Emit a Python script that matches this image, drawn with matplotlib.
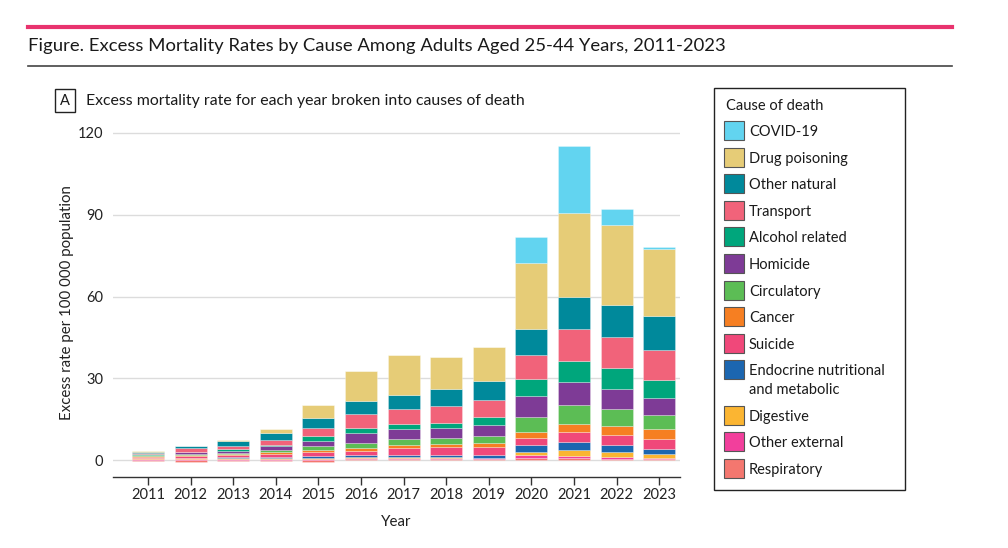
import matplotlib
matplotlib.use("Agg")
import matplotlib.pyplot as plt
from matplotlib.patches import Rectangle
from matplotlib.lines import Line2D
import numpy as np

plt.rcParams['font.family'] = ['Lato', 'DejaVu Sans']

years = ["2011", "2012", "2013", "2014", "2015", "2016", "2017",
         "2018", "2019", "2020", "2021", "2022", "2023"]

# stacking order: bottom -> top
causes = ["Respiratory", "Other external", "Digestive", "Endocrine nutritional\nand metabolic",
          "Suicide", "Cancer", "Circulatory", "Homicide", "Alcohol related",
          "Transport", "Other natural", "Drug poisoning", "COVID-19"]

respiratory    = [-0.3, -0.7, -0.4, -0.4, -0.7, 0.3, 0.3, 0.3, 0.3, 0.8, 0.6, 0.4, 0.3]
other_external = [0.4, 0.4, 0.5, 0.4, 0.5, 0.5, 0.4, 0.5, 0.3, 1.0, 1.0, 0.8, 0.4]
digestive      = [0.2, 0.3, 0.3, 0.3, 0.4, 0.4, 0.4, 0.4, 0.3, 1.2, 2.1, 1.6, 1.5]
endocrine      = [0.1, 0.2, 0.2, 0.4, 0.5, 0.6, 0.7, 0.6, 0.9, 2.5, 2.9, 2.7, 1.8]
suicide        = [0.6, 0.7, 0.8, 1.2, 1.5, 1.5, 2.7, 2.9, 2.9, 2.7, 3.6, 3.7, 3.6]
cancer         = [0.2, 0.3, 0.4, 0.6, 0.9, 1.2, 1.0, 1.2, 1.4, 2.1, 3.0, 3.2, 3.7]
circulatory    = [0.3, 0.4, 0.5, 0.9, 1.2, 1.9, 2.2, 2.1, 2.7, 5.6, 7.0, 6.3, 5.2]
homicide       = [0.2, 0.6, 0.8, 1.2, 2.0, 3.4, 3.7, 3.6, 4.0, 7.6, 8.4, 7.5, 6.4]
alcohol        = [0.2, 0.2, 0.4, 0.7, 1.7, 1.8, 1.7, 2.1, 2.9, 6.1, 7.8, 7.4, 6.4]
transport      = [0.4, 1.2, 1.4, 1.8, 3.2, 5.2, 5.6, 6.1, 6.3, 8.9, 11.6, 11.4, 11.0]
other_natural  = [0.3, 0.8, 1.8, 2.4, 3.7, 4.9, 5.2, 6.1, 7.0, 9.6, 11.9, 12.0, 12.4]
drug           = [0.3, 0.1, 0.1, 1.6, 4.5, 11.0, 14.6, 12.0, 12.5, 24.3, 30.7, 29.2, 24.6]
covid          = [0.0, 0.0, 0.0, 0.0, 0.0, 0.0, 0.0, 0.0, 0.0, 9.3, 24.6, 5.9, 0.9]

series = [respiratory, other_external, digestive, endocrine, suicide, cancer,
          circulatory, homicide, alcohol, transport, other_natural, drug, covid]

colors = ["#f4776f", "#f23f9c", "#fbb532", "#1c66b0", "#f0487a", "#f67f22",
          "#5cbd55", "#7e3b96", "#00a67c", "#f1637a", "#00899b", "#e6cc77", "#62d4f0"]

y_ticks = [0, 30, 60, 90, 120]

fig = plt.figure(figsize=(10.08, 5.48), dpi=100)
W, H = 1008, 548

def fx(px):
    return px / W

def fy(py):
    return 1 - py / H

# top decorations
fig.add_artist(Line2D([fx(28), fx(952)], [fy(27), fy(27)], color="#e8336e", lw=3))
fig.text(fx(28), fy(46), "Figure. Excess Mortality Rates by Cause Among Adults Aged 25-44 Years, 2011-2023",
         fontsize=13.3, color="#1a1a1a", va="center", ha="left")
fig.add_artist(Line2D([fx(28), fx(952)], [fy(66), fy(66)], color="#444444", lw=1.2))

# panel label
fig.add_artist(Rectangle((fx(55), fy(112)), fx(75) - fx(55), fy(89) - fy(112),
                         fill=False, edgecolor="#222222", lw=1))
fig.text(fx(65), fy(101), "A", fontsize=10.5, ha="center", va="center", color="#1a1a1a")
fig.text(fx(86), fy(101), "Excess mortality rate for each year broken into causes of death",
         fontsize=11.4, ha="left", va="center", color="#1a1a1a")

# axes
ax = fig.add_axes([fx(113), fy(477), fx(680) - fx(113), fy(127.5) - fy(477)])
x = np.arange(len(years))
pos_base = np.zeros(len(years))
neg_base = np.zeros(len(years))
for vals, col in zip(series, colors):
    v = np.array(vals, dtype=float)
    bottoms = np.where(v >= 0, pos_base, neg_base)
    ax.bar(x, v, bottom=bottoms, width=0.75, color=col, edgecolor=(1, 1, 1, 0.5),
           linewidth=0.4, zorder=3)
    pos_base = pos_base + np.where(v >= 0, v, 0)
    neg_base = neg_base + np.where(v < 0, v, 0)

ax.set_xlim(-0.82, 12.49)
ax.set_ylim(-6.2, 122)
ax.set_yticks(y_ticks)
ax.set_yticklabels([str(t) for t in y_ticks])
ax.set_xticks(x)
ax.set_xticklabels(years)
ax.grid(axis="y", color="#dcdcdc", lw=1, zorder=0)
for s in ["top", "right", "left"]:
    ax.spines[s].set_visible(False)
ax.spines["bottom"].set_color("#333333")
ax.spines["bottom"].set_linewidth(1)
ax.tick_params(axis="y", length=0, pad=7, labelsize=10.5, labelcolor="#222222")
ax.tick_params(axis="x", length=6, width=1, color="#333333", pad=2, labelsize=10.5,
               labelcolor="#222222")
ax.set_xlabel("Year", fontsize=10.8, color="#222222", labelpad=9)
ax.set_ylabel("Excess rate per 100 000 population", fontsize=10.8, color="#222222", labelpad=3)

# legend (manual)
fig.add_artist(Rectangle((fx(714), fy(490)), fx(905) - fx(714), fy(88) - fy(490),
                         fill=False, edgecolor="#222222", lw=1))
fig.text(fx(726), fy(106), "Cause of death", fontsize=10.5, ha="left", va="center", color="#1a1a1a")
legend_y = [130, 157, 183, 210, 236, 263, 290, 316, 343, 369, 415, 441, 468]
for i, (name, col) in enumerate(zip(causes[::-1], colors[::-1])):
    yc = legend_y[i]
    fig.add_artist(Rectangle((fx(724), fy(yc + 10)), fx(744) - fx(724), fy(yc - 9) - fy(yc + 10),
                             facecolor=col, edgecolor="#555555", lw=0.8))
    if "\n" in name:
        a, b = name.split("\n")
        fig.text(fx(749), fy(yc + 2), a, fontsize=10.5, ha="left", va="center", color="#1a1a1a")
        fig.text(fx(749), fy(yc + 21), b, fontsize=10.5, ha="left", va="center", color="#1a1a1a")
    else:
        fig.text(fx(749), fy(yc + 2), name, fontsize=10.5, ha="left", va="center", color="#1a1a1a")

fig.savefig("out.png", dpi=100)
